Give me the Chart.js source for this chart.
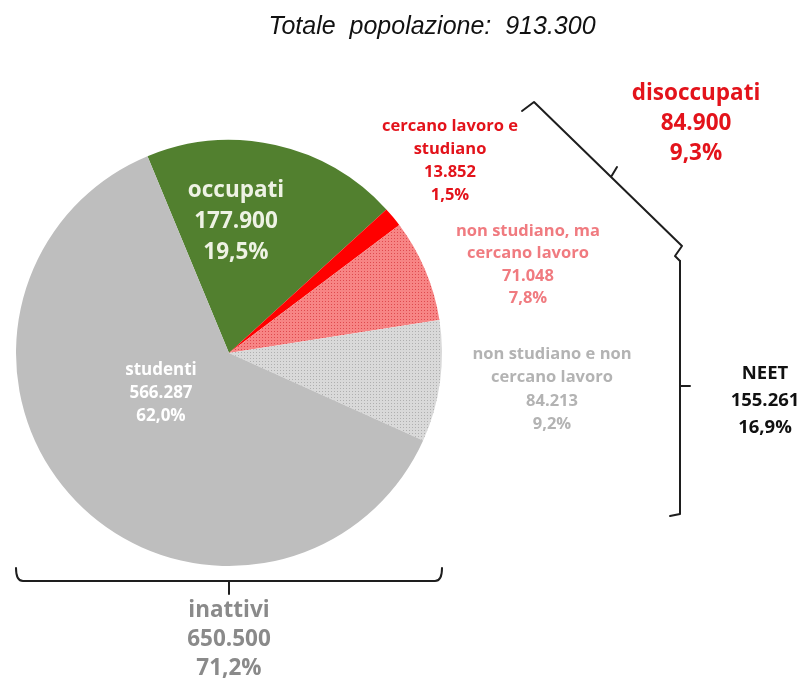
<!DOCTYPE html>
<html lang="it">
<head>
<meta charset="utf-8">
<title>Totale popolazione</title>
<script src="https://cdn.jsdelivr.net/npm/chart.js@4.4.1/dist/chart.umd.min.js"></script>
<style>
  html, body { margin: 0; padding: 0; background: #fff; }
  #wrap { width: 803px; height: 679px; }
</style>
</head>
<body>
<div id="wrap"><canvas id="torta" width="803" height="679"></canvas></div>
<script>
// fette della torta (valori assoluti)
var CATEGORIE = ['occupati', 'cercano lavoro e studiano', 'non studiano, ma cercano lavoro', 'non studiano e non cercano lavoro', 'studenti'];
var VALORI = [177900, 13852, 71048, 84213, 566287];
var PERCENTUALI = ['19,5%', '1,5%', '7,8%', '9,2%', '62,0%'];
var RIGHE_ETICHETTA = [
  ['occupati'],
  ['cercano lavoro e', 'studiano'],
  ['non studiano, ma', 'cercano lavoro'],
  ['non studiano e non', 'cercano lavoro'],
  ['studenti'],
];

// raggruppamenti con le graffe
var GRUPPI = ['disoccupati', 'NEET', 'inattivi'];
var GRUPPI_VALORI = [84900, 155261, 650500];
var GRUPPI_PERC = ['9,3%', '16,9%', '71,2%'];

var TOTALE = 913300;

var FONT = "'Open Sans', 'Noto Sans', sans-serif";

function fmt(n) {
  return String(n).replace(/\B(?=(\d{3})+(?!\d))/g, '.');
}

// retino a puntini per le fette NEET
function retino(base, punto) {
  var c = document.createElement('canvas');
  c.width = 3;
  c.height = 3;
  var g = c.getContext('2d');
  g.fillStyle = base;
  g.fillRect(0, 0, 3, 3);
  g.fillStyle = punto;
  g.fillRect(1, 1, 1, 1);
  return g.createPattern(c, 'repeat');
}

var ctx = document.getElementById('torta').getContext('2d');
var COLORI = ['#52802f', '#ff0000', retino('#f78585', '#de4a4e'), retino('#d9d9d9', '#afafaf'), '#bebebe'];

// posizione e stile dei testi: una voce per fetta, poi una per gruppo
var STILE_FETTE = [
  { x: 236, y: 191, dy: 31, size: 22.5, color: '#eef2e4' },
  { x: 450, y: 126, dy: 23, size: 16.5, color: '#e3131b' },
  { x: 528, y: 231, dy: 22.5, size: 16.5, color: '#f07b80' },
  { x: 552, y: 354, dy: 23.5, size: 16.5, color: '#b3b3b3' },
  { x: 161, y: 370, dy: 23, size: 17, color: '#ffffff' },
];
var STILE_GRUPPI = [
  { x: 696, y: 94, dy: 30, size: 22.5, color: '#e3131b' },
  { x: 765, y: 374, dy: 27, size: 18.5, color: '#111111' },
  { x: 229, y: 611, dy: 29, size: 22.5, color: '#8a8a8a' },
];

function scriviRighe(c, righe, s) {
  c.font = 'bold ' + s.size + 'px ' + FONT;
  c.fillStyle = s.color;
  c.textAlign = 'center';
  c.textBaseline = 'middle';
  righe.forEach(function (r, i) {
    c.fillText(r, s.x, s.y + i * s.dy);
  });
}

var etichette = {
  id: 'etichette',
  afterDraw: function (chart) {
    var c = chart.ctx;
    var arc = chart.getDatasetMeta(0).data[0];
    var cx = arc.x, cy = arc.y, r = arc.outerRadius;
    c.save();

    // titolo
    c.font = 'italic 25px "Liberation Sans", Arial, sans-serif';
    c.fillStyle = '#111';
    c.textAlign = 'center';
    c.textBaseline = 'middle';
    c.fillText('Totale  popolazione:  ' + fmt(TOTALE), 432, 27);

    VALORI.forEach(function (v, i) {
      scriviRighe(c, RIGHE_ETICHETTA[i].concat([fmt(v), PERCENTUALI[i]]), STILE_FETTE[i]);
    });
    GRUPPI.forEach(function (g, i) {
      scriviRighe(c, [g, fmt(GRUPPI_VALORI[i]), GRUPPI_PERC[i]], STILE_GRUPPI[i]);
    });

    // graffe
    c.strokeStyle = '#1e1e1e';
    c.lineWidth = 2;
    c.lineJoin = 'round';
    c.lineCap = 'round';

    // disoccupati (diagonale)
    c.beginPath();
    c.moveTo(522, 111);
    c.lineTo(534, 102);
    c.lineTo(682, 246);
    c.lineTo(675, 256);
    c.lineTo(680, 261);
    c.moveTo(611, 177);
    c.lineTo(617, 167);
    c.stroke();

    // NEET (verticale)
    c.beginPath();
    c.moveTo(680, 261);
    c.lineTo(680, 514);
    c.lineTo(670, 516);
    c.moveTo(680, 386);
    c.lineTo(690, 386);
    c.stroke();

    // inattivi (orizzontale sotto la torta)
    var yb = cy + r + 15;
    c.beginPath();
    c.moveTo(cx - r, yb - 13);
    c.quadraticCurveTo(cx - r, yb, cx - r + 7, yb);
    c.lineTo(cx + r - 7, yb);
    c.quadraticCurveTo(cx + r, yb, cx + r, yb - 13);
    c.moveTo(cx, yb);
    c.lineTo(cx, yb + 13);
    c.stroke();

    c.restore();
  },
};

new Chart(ctx, {
  type: 'pie',
  data: {
    labels: CATEGORIE,
    datasets: [{
      data: VALORI,
      backgroundColor: COLORI,
      borderWidth: 0,
    }],
  },
  options: {
    responsive: false,
    animation: false,
    rotation: -22.5,
    layout: { padding: { left: 16, right: 361, top: 140, bottom: 113 } },
    plugins: {
      legend: { display: false },
      tooltip: { enabled: false },
    },
    events: [],
  },
  plugins: [etichette],
});
</script>
</body>
</html>
